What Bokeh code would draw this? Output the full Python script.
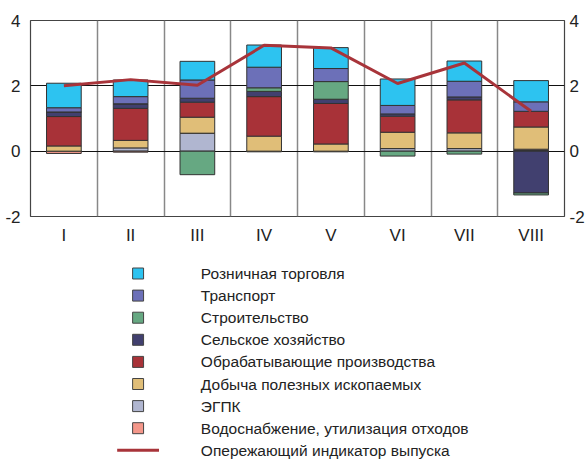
from bokeh.plotting import figure
from bokeh.models import Range1d, FixedTicker, LinearAxis, ColumnDataSource
from bokeh.layouts import column
from bokeh.core.properties import value
from bokeh.embed import file_html
from bokeh.resources import INLINE

FONT = "'Liberation Sans', Arial, sans-serif"

categories = ["I", "II", "III", "IV", "V", "VI", "VII", "VIII"]
retail = [0.75, 0.51, 0.57, 0.68, 0.64, 0.81, 0.62, 0.65]
transport = [0.13, 0.22, 0.56, 0.63, 0.40, 0.26, 0.48, 0.29]
construction = [0.0, 0.0, -0.72, 0.11, 0.54, -0.15, -0.09, -0.06]
agriculture = [0.14, 0.14, 0.12, 0.16, 0.13, 0.07, 0.09, -1.28]
manufacturing = [0.90, 0.98, 0.46, 1.21, 1.24, 0.49, 1.01, 0.48]
mining = [0.16, 0.23, 0.49, 0.46, 0.22, 0.50, 0.48, 0.68]
egpk = [0.0, 0.10, 0.55, 0.0, 0.0, 0.08, 0.08, 0.02]
water = [-0.07, -0.03, 0.0, -0.02, -0.02, 0.0, 0.0, 0.04]
indicator = [2.0, 2.19, 2.02, 3.24, 3.16, 2.07, 2.70, 1.22]
y_ticks = [-2, 0, 2, 4]
y_tick_labels = ["-2", "0", "2", "4"]

names = ["Розничная торговля", "Транспорт", "Строительство", "Сельское хозяйство",
         "Обрабатывающие производства", "Добыча полезных ископаемых", "ЭГПК",
         "Водоснабжение, утилизация отходов"]
line_name = "Опережающий индикатор выпуска"
series = [retail, transport, construction, agriculture, manufacturing, mining, egpk, water]
colors = ["#2DC3F0", "#6C70B8", "#66A882", "#41406F", "#A83238", "#E0BE78", "#B0B6D0", "#F4978A"]
line_color = "#A8343A"

# stacking order from zero outward
stack_order = [6, 7, 5, 4, 3, 2, 1, 0]

W = 587
H1 = 253
H2 = 207
BL, BR = 30, 21

p = figure(width=W, height=H1, output_backend="svg", toolbar_location=None,
           x_range=Range1d(0, len(categories)), y_range=Range1d(-2, 4),
           min_border_left=BL, min_border_right=BR, min_border_top=20, min_border_bottom=37)

xs = [i + 0.5 for i in range(len(categories))]
pos = [0.0] * len(categories)
neg = [0.0] * len(categories)
for k in stack_order:
    vals = series[k]
    bottoms, tops = [], []
    for i, v in enumerate(vals):
        if v >= 0:
            bottoms.append(pos[i]); tops.append(pos[i] + v); pos[i] += v
        else:
            tops.append(neg[i]); bottoms.append(neg[i] + v); neg[i] += v
    src = ColumnDataSource(dict(x=xs, bottom=bottoms, top=tops))
    p.vbar(x="x", bottom="bottom", top="top", width=0.52, source=src,
           fill_color=colors[k], line_color="#333333", line_width=1)

p.line(xs, indicator, line_color=line_color, line_width=3)

# axes
p.xaxis.ticker = FixedTicker(ticks=xs)
p.xaxis.major_label_overrides = {x: c for x, c in zip(xs, categories)}
p.xaxis.major_label_text_font = FONT
p.xaxis.major_label_text_font_size = "17px"
p.xaxis.major_label_text_color = "#222222"
p.xaxis.major_label_standoff = 9
p.xaxis.axis_line_color = None
p.xaxis.major_tick_line_color = None
p.xaxis.minor_tick_line_color = None
p.xaxis.major_tick_out = 0
p.xaxis.major_tick_in = 0

p.yaxis.ticker = FixedTicker(ticks=y_ticks)
ry = LinearAxis(ticker=FixedTicker(ticks=y_ticks))
p.add_layout(ry, "right")
for ax in p.yaxis:
    ax.major_label_overrides = {t: s for t, s in zip(y_ticks, y_tick_labels)}
    ax.major_label_text_font = FONT
    ax.major_label_text_font_size = "17px"
    ax.major_label_text_color = "#222222"
    ax.axis_line_color = None
    ax.major_tick_line_color = None
    ax.minor_tick_line_color = None
    ax.major_tick_out = 0
    ax.major_tick_in = 0
p.yaxis[0].major_label_standoff = 10
ry.major_label_standoff = 5

p.xgrid.ticker = FixedTicker(ticks=list(range(1, len(categories))))
p.xgrid.grid_line_color = "#888888"
p.xgrid.grid_line_width = 1.5
p.ygrid.ticker = FixedTicker(ticks=[0, 2])
p.ygrid.grid_line_color = "#111111"
p.ygrid.grid_line_width = 1.2
p.outline_line_color = "#444444"
p.outline_line_width = 1.2
p.background_fill_color = "white"

# legend figure: frame aligned with the chart frame, x in page pixels
lg = figure(width=W, height=H2, output_backend="svg", toolbar_location=None,
            x_range=Range1d(BL, W - BR), y_range=Range1d(H2, 0),
            x_axis_type=None, y_axis_type=None,
            min_border_left=BL, min_border_right=BR, min_border_top=0, min_border_bottom=0)
lg.grid.visible = False
lg.outline_line_color = None

row0 = 20
step = 22.1
ys = [row0 + step * i for i in range(len(names) + 1)]
lg.rect(x=[138] * len(names), y=ys[:len(names)], width=11, height=11,
        fill_color=colors, line_color="#444444", line_width=1)
lg.line(x=[117, 159], y=[ys[-1], ys[-1]], line_color=line_color, line_width=3)
lg.text(x=[201] * (len(names) + 1), y=ys, text=names + [line_name],
        text_font=value(FONT), text_font_size="15.5px", text_color="#222222",
        text_baseline="middle", text_align="left")

layout = column(p, lg, spacing=0)
open("out.html", "w").write(file_html(layout, INLINE))
